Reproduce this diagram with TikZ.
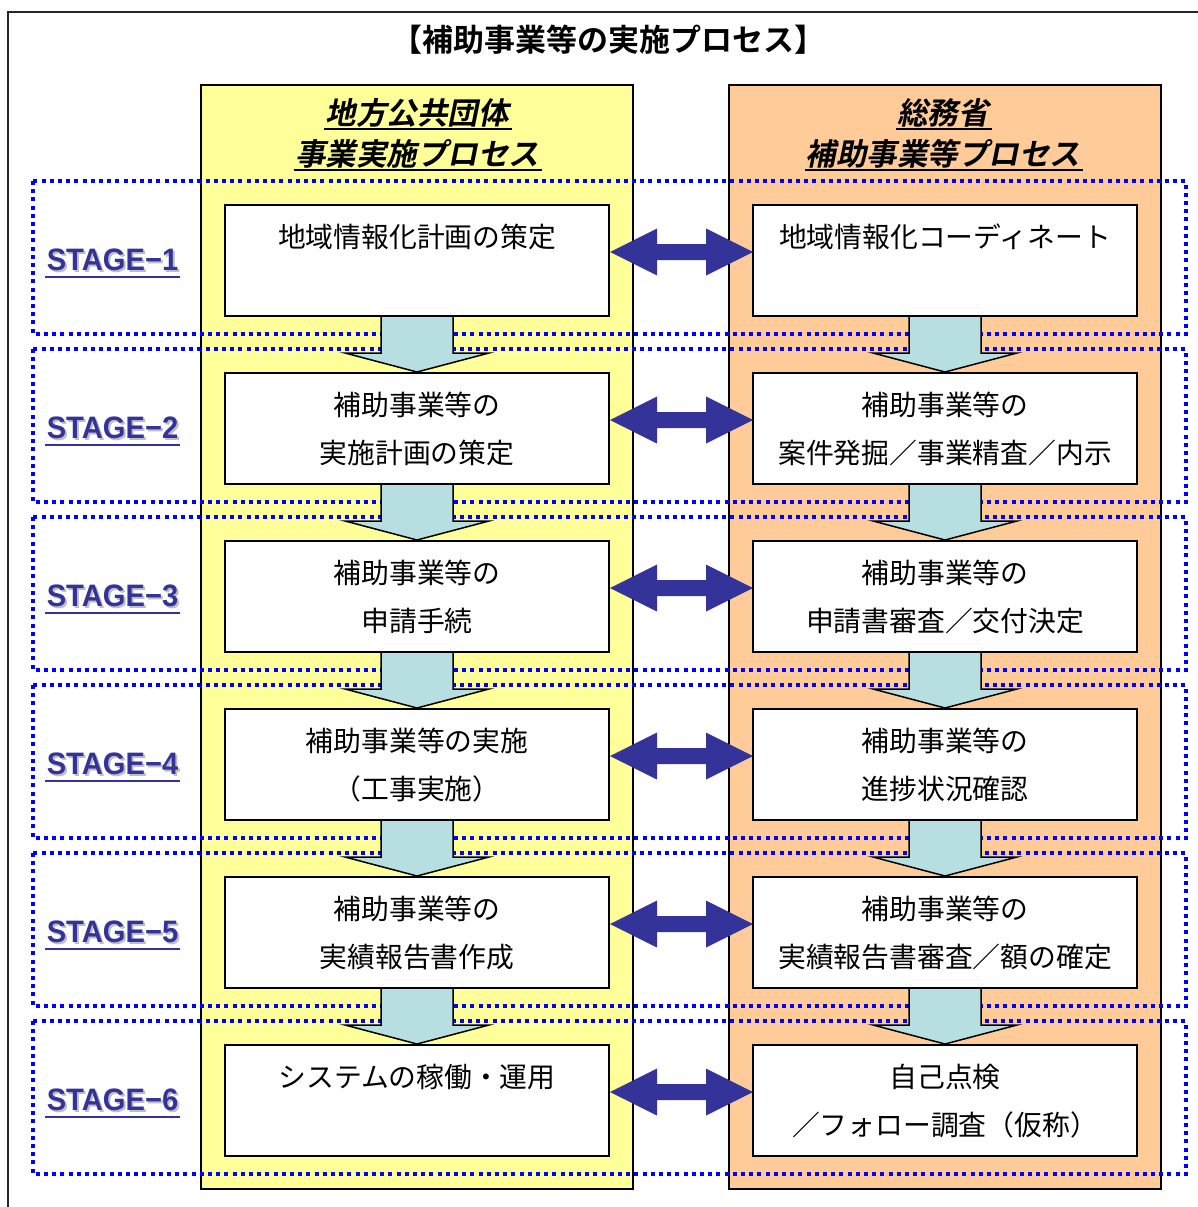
\documentclass[tikz,border=0pt]{standalone}
\usepackage{fontspec}
\newfontfamily\jp{Noto Sans CJK JP}
\newfontfamily\jpB{Noto Sans CJK JP Bold}
\newfontfamily\jpHead[FakeSlant=0.2]{Noto Sans CJK JP Bold}
\newfontfamily\stg[FakeStretch=0.94]{Liberation Sans Bold}
\usetikzlibrary{calc}
\definecolor{colY}{HTML}{FFFF99}
\definecolor{colO}{HTML}{FFCC99}
\definecolor{arrB}{HTML}{B7DEE0}
\definecolor{arrN}{HTML}{333399}
\definecolor{dotB}{HTML}{0000FF}
\begin{document}
\begin{tikzpicture}[x=1pt,y=-1pt,
  colbox/.style={draw=black, line width=2pt},
  stepbox/.style={draw=black, line width=2pt, fill=white, minimum width=384pt, minimum height=111pt, inner sep=0pt, outer sep=0pt, anchor=north},
  boxtext/.style={anchor=base, inner sep=0pt, font=\jp\fontsize{27.8}{33}\selectfont},
  hdr/.style={anchor=base, inner sep=0pt, font=\jpHead\fontsize{30.5}{36}\selectfont},
  stagedot/.style={draw=dotB, line width=4pt, dash pattern=on 4pt off 4.2pt},
  stagelbl/.style={anchor=base, inner sep=0pt, text=arrN, font=\stg\fontsize{31}{36}\selectfont},
  stageshadow/.style={anchor=base, inner sep=0pt, text=black!25, font=\stg\fontsize{31}{36}\selectfont},
  downarr/.style={draw=black, line width=1.5pt, fill=arrB, line join=miter},
  duoarr/.style={fill=arrN},
]
\useasboundingbox (0,0) rectangle (1198,1207);
\fill[white] (0,0) rectangle (1198,1207);
% outer frame (cropped on the right and bottom)
\draw[line width=2pt, draw=black!85] (1205,12) -- (8,12) -- (8,1215);
% title
\node[anchor=base, inner sep=0pt, font=\jpB\fontsize{31}{36}\selectfont] (title) at (608,51.5) {【補助事業等の実施プロセス】};
% columns
\draw[colbox, fill=colY] (201,85) rectangle (633,1189);
\draw[colbox, fill=colO] (729,85) rectangle (1161,1189);
% headers
\node[hdr] (hL1) at (417,124.5) {地方公共団体};
\node[hdr] (hL2) at (417,165) {事業実施プロセス};
\node[hdr] (hR1) at (943,124.5) {総務省};
\node[hdr] (hR2) at (943,165) {補助事業等プロセス};
\foreach \h in {hL1,hL2,hR1,hR2}{
  \draw[line width=2pt] ($(\h.base west)+(-1,4.5)$) -- ($(\h.base east)+(3,4.5)$);
}
% stage dotted frames
\foreach \i in {1,...,6}{
  \pgfmathsetmacro{\top}{205+168*(\i-1)}
  \draw[stagedot] (33,\top-24) rectangle (1186,\top+129);
}
% step boxes
\foreach \i in {1,...,6}{
  \pgfmathsetmacro{\top}{205+168*(\i-1)}
  \node[stepbox] (L\i) at (417,\top) {};
  \node[stepbox] (R\i) at (945,\top) {};
}
% box texts
\node[boxtext] (L1a) at ($(L1.north)+(0,42.5)$) {地域情報化計画の策定};
\node[boxtext] (R1a) at ($(R1.north)+(0,42.5)$) {地域情報化コーディネート};
\node[boxtext] (L2a) at ($(L2.north)+(0,42.5)$) {補助事業等の};
\node[boxtext] (L2b) at ($(L2.north)+(0,90.5)$) {実施計画の策定};
\node[boxtext] (R2a) at ($(R2.north)+(0,42.5)$) {補助事業等の};
\node[boxtext] (R2b) at ($(R2.north)+(0,90.5)$) {案件発掘／事業精査／内示};
\node[boxtext] (L3a) at ($(L3.north)+(0,42.5)$) {補助事業等の};
\node[boxtext] (L3b) at ($(L3.north)+(0,90.5)$) {申請手続};
\node[boxtext] (R3a) at ($(R3.north)+(0,42.5)$) {補助事業等の};
\node[boxtext] (R3b) at ($(R3.north)+(0,90.5)$) {申請書審査／交付決定};
\node[boxtext] (L4a) at ($(L4.north)+(0,42.5)$) {補助事業等の実施};
\node[boxtext] (L4b) at ($(L4.north)+(0,90.5)$) {（工事実施）};
\node[boxtext] (R4a) at ($(R4.north)+(0,42.5)$) {補助事業等の};
\node[boxtext] (R4b) at ($(R4.north)+(0,90.5)$) {進捗状況確認};
\node[boxtext] (L5a) at ($(L5.north)+(0,42.5)$) {補助事業等の};
\node[boxtext] (L5b) at ($(L5.north)+(0,90.5)$) {実績報告書作成};
\node[boxtext] (R5a) at ($(R5.north)+(0,42.5)$) {補助事業等の};
\node[boxtext] (R5b) at ($(R5.north)+(0,90.5)$) {実績報告書審査／額の確定};
\node[boxtext] (L6a) at ($(L6.north)+(0,42.5)$) {システムの稼働・運用};
\node[boxtext] (R6a) at ($(R6.north)+(0,42.5)$) {自己点検};
\node[boxtext] (R6b) at ($(R6.north)+(0,90.5)$) {／フォロー調査（仮称）};
% down arrows
\foreach \a/\b in {L1/L2,L2/L3,L3/L4,L4/L5,L5/L6,R1/R2,R2/R3,R3/R4,R4/R5,R5/R6}{
  \draw[downarr] ($(\a.south)+(-36,0)$) -- ($(\a.south)+(-36,37)$) -- ($(\a.south)+(-72,37)$)
    -- ($(\b.north)+(0,-1)$) -- ($(\a.south)+(72,37)$) -- ($(\a.south)+(36,37)$) -- ($(\a.south)+(36,0)$) -- cycle;
}
% double arrows
\foreach \i in {1,...,6}{
  \coordinate (dA\i) at ($(L\i.east)+(1,-8.5)$);
  \coordinate (dB\i) at ($(R\i.west)+(0,-8.5)$);
  \fill[duoarr] (dA\i) -- ($(dA\i)+(47,-23.5)$) -- ($(dA\i)+(47,-8)$) -- ($(dB\i)+(-47,-8)$)
    -- ($(dB\i)+(-47,-23.5)$) -- (dB\i) -- ($(dB\i)+(-47,23.5)$) -- ($(dB\i)+(-47,8)$)
    -- ($(dA\i)+(47,8)$) -- ($(dA\i)+(47,23.5)$) -- cycle;
}
% stage labels
\foreach \i in {1,...,6}{
  \pgfmathsetmacro{\top}{205+168*(\i-1)}
  \node[stageshadow] (S\i s) at (114.5,\top+67) {STAGE−\i};
  \node[stagelbl] (S\i) at (112.5,\top+65.5) {STAGE−\i};
  \draw[draw=arrN, line width=2.5pt] ($(S\i.base west)+(-2,6.5)$) -- ($(S\i.base east)+(2,6.5)$);
}
\end{tikzpicture}
\end{document}
